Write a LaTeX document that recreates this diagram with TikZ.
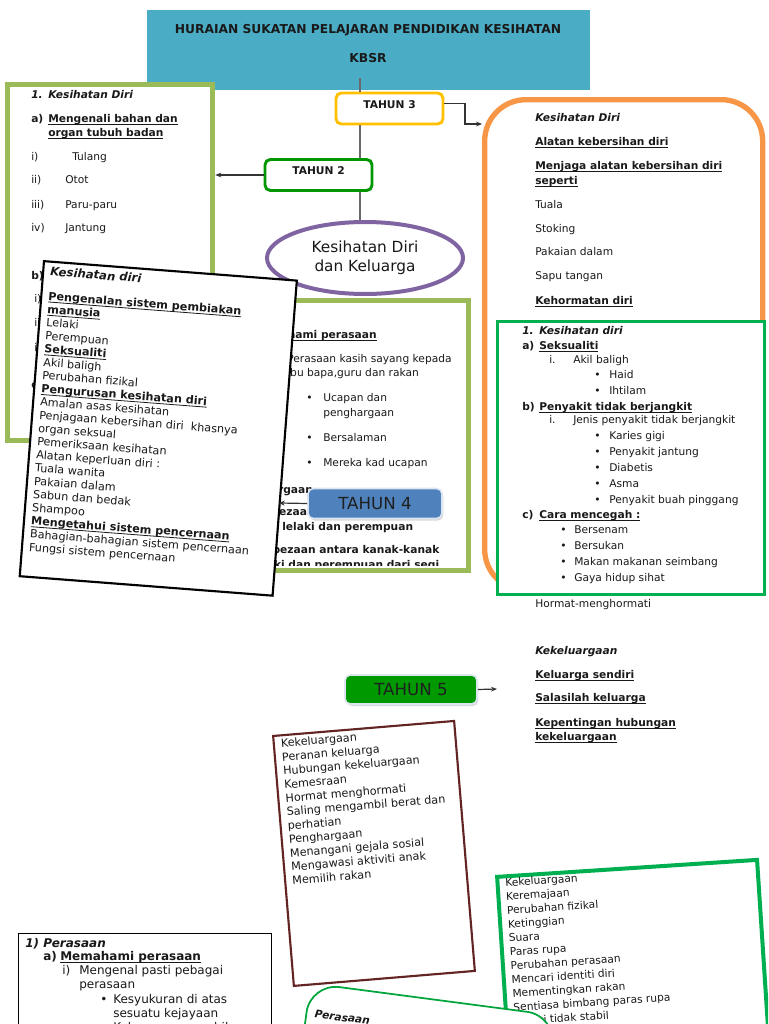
\documentclass[tikz,border=0pt]{standalone}
\usepackage{fontspec}
\setmainfont{DejaVu Sans}
\usetikzlibrary{arrows.meta,shapes.geometric,shadows}
\definecolor{titleblue}{RGB}{75,172,198}
\definecolor{lgreen}{RGB}{155,187,89}
\definecolor{tgold}{RGB}{255,192,0}
\definecolor{tgreen}{RGB}{0,150,0}
\definecolor{epurple}{RGB}{128,100,162}
\definecolor{orng}{RGB}{247,150,70}
\definecolor{mgreen}{RGB}{0,176,80}
\definecolor{t4blue}{RGB}{79,129,189}
\definecolor{t4edge}{RGB}{220,230,242}
\definecolor{t5green}{RGB}{0,153,0}
\definecolor{brwn}{RGB}{99,37,35}
\definecolor{pgreen}{RGB}{0,165,60}
\definecolor{txtc}{RGB}{25,25,25}
\definecolor{linegray}{RGB}{105,105,105}
\newcommand{\fA}{\fontsize{8}{10}\selectfont}
\newcommand{\fB}{\fontsize{8.4}{10}\selectfont}
\newcommand{\fC}{\fontsize{8.75}{10}\selectfont}
\newcommand{\fD}{\fontsize{9}{11}\selectfont}
\newcommand{\fT}{\fontsize{9.2}{11}\selectfont}
\newcommand{\fE}{\fontsize{11.5}{14.25}\selectfont}
\newcommand{\fF}{\fontsize{12.5}{14}\selectfont}
\newcommand{\bul}{\textbullet}
\newcommand{\myul}[1]{\leavevmode\setbox0\hbox{#1}\rlap{\rule[-1.7pt]{\wd0}{0.6pt}}\box0}
\tikzset{
  tx/.style={anchor=west, inner sep=0pt, text height=1.5ex, text depth=.25ex, text=txtc},
  tA/.style={tx, font=\fA}, tAb/.style={tx, font=\fA\bfseries}, tAi/.style={tx, font=\fA\bfseries\itshape},
  tB/.style={tx, font=\fB}, tBb/.style={tx, font=\fB\bfseries}, tBi/.style={tx, font=\fB\bfseries\itshape},
  tD/.style={tx, font=\fD}, tDb/.style={tx, font=\fD\bfseries}, tDi/.style={tx, font=\fD\bfseries\itshape},
  arr/.style={-{Stealth[length=4.5pt,width=3.6pt]}, line width=0.9pt, draw=black!80},
  vline/.style={draw=linegray, line width=1.1pt},
  panel/.style={anchor=north west, inner sep=0pt, fill=white},
  tahunbox/.style={fill=white, rounded corners=4pt, line width=2.2pt, minimum width={107*0.75pt}, minimum height={31*0.75pt}, font=\fA\bfseries, text height=6pt, text depth=6.5pt, text=txtc},
  tahunfill/.style={rounded corners=4pt, draw=t4edge, line width=1.2pt, minimum height={30*0.75pt}, font=\fF, text=black!88, drop shadow={shadow xshift=1pt,shadow yshift=-1.5pt,opacity=0.3}},
}
\begin{document}
\begin{tikzpicture}[x=0.75pt,y=-0.75pt]
\useasboundingbox (0,0) rectangle (768,1024);
\clip (0,0) rectangle (768,1024);

% title
\node[panel, fill=titleblue, minimum width={443*0.75pt}, minimum height={80*0.75pt}] (title) at (147,10) {};
\node[font=\fT\bfseries, text=txtc, inner sep=0pt] (titleA) at (368,30) {HURAIAN SUKATAN PELAJARAN PENDIDIKAN KESIHATAN};
\node[font=\fT\bfseries, text=txtc, inner sep=0pt] (titleB) at (368,58) {KBSR};

% left light green box
\node[panel, draw=lgreen, line width=4pt, minimum width={205*0.75pt}, minimum height={356*0.75pt}] (lbox) at (5,82) {};
\node[tAi] (l1n) at (31,94) {1.};
\node[tAi] (l1) at (48,94) {Kesihatan Diri};
\node[tAb] (l2n) at (31,118) {a)};
\node[tAb] (l2) at (48,118) {\myul{Mengenali bahan dan}};
\node[tAb] (l3) at (48,132) {\myul{organ tubuh badan}};
\node[tA] (l4n) at (31,156) {i)};   \node[tA] (l4) at (72,156) {Tulang};
\node[tA] (l5n) at (31,179) {ii)};  \node[tA] (l5) at (65,179) {Otot};
\node[tA] (l6n) at (31,204) {iii)}; \node[tA] (l6) at (65,204) {Paru-paru};
\node[tA] (l7n) at (31,227) {iv)};  \node[tA] (l7) at (65,227) {Jantung};
\node[tAb] (l8n) at (31,275) {b)};
\node[tA] (l9n) at (34,298) {i)};
\node[tA] (l10n) at (34,322) {ii)};
\node[tA] (l11n) at (34,347) {iii)};
\node[tAb] (l12n) at (31,384) {c)};

% middle light green box
\node[panel, draw=lgreen, line width=3.75pt, minimum width={239.5*0.75pt}, minimum height={270*0.75pt}] (mbox) at (226,297.5) {};
\begin{scope}
\clip (229,300) rectangle (463,565);
\node[tAb, anchor=east] (m1) at (377,334) {\myul{Memahami perasaan}};
\node[tA] (m2) at (287,358) {Perasaan kasih sayang kepada};
\node[tA] (m3) at (287,372) {ibu bapa,guru dan rakan};
\node[tA] (m4b) at (306,397) {\bul}; \node[tA] (m4) at (323,397) {Ucapan dan};
\node[tA] (m5) at (323,412) {penghargaan};
\node[tA] (m6b) at (306,437) {\bul}; \node[tA] (m6) at (323,437) {Bersalaman};
\node[tA] (m7b) at (306,462) {\bul}; \node[tA] (m7) at (323,462) {Mereka kad ucapan};
\node[tAb] (m8) at (230,489) {Kekeluargaan};
\node[tAb] (m9) at (251,511) {Perbezaan antara kanak-kanak};
\node[tAb] (m10) at (282,526) {lelaki dan perempuan};
\node[tAb] (m11) at (252,549) {Perbezaan antara kanak-kanak};
\node[tAb] (m12) at (252,564) {lelaki dan perempuan dari segi};
\end{scope}

% tahun 3, tahun 2, ellipse
\node[tahunbox, draw=tgold] (t3) at (389.5,108.5) {TAHUN 3};
\node[tahunbox, draw=tgreen] (t2) at (318.5,175) {TAHUN 2};
\node[ellipse, draw=epurple, line width=3pt, fill=white, minimum width={196*0.75pt}, minimum height={72*0.75pt}, font=\fE, align=center, text=txtc, inner sep=0pt] (ell) at (365,258) {Kesihatan Diri\\dan Keluarga};

\coordinate (vtop) at (360,78);
\draw[vline] (vtop) -- (vtop |- t3.north);
\draw[vline] (t3.south -| vtop) -- (t2.north -| vtop);
\draw[vline] (t2.south -| vtop) -- (ell.north -| vtop);
\draw[arr] (t2.west) -- (t2.west -| lbox.east);

% rotated black box
\begin{scope}[shift={(43,260)}, rotate=-4.4, every node/.append style={transform shape}]
\node[panel, draw=black, line width=1.6pt, minimum width={253.6*0.75pt}, minimum height={316*0.75pt}] (rbox) at (0,0) {};
\coordinate (rbin) at (253.6,224.2);
\node[tx, font=\fC\bfseries\itshape] (r0) at (8,10.5) {Kesihatan diri};
\node[tBb] (r1) at (8,35) {\myul{Pengenalan sistem pembiakan}};
\node[tBb] (r2) at (8,48.3) {\myul{manusia}};
\node[tB] (r3) at (8,61.5) {Lelaki};
\node[tB] (r4) at (8,74.8) {Perempuan};
\node[tBb] (r5) at (8,88) {\myul{Seksualiti}};
\node[tB] (r6) at (8,101.3) {Akil baligh};
\node[tB] (r7) at (8,114.6) {Perubahan fizikal};
\node[tBb] (r8) at (8,127.8) {\myul{Pengurusan kesihatan diri}};
\node[tB] (r9) at (8,141.1) {Amalan asas kesihatan};
\node[tB] (r10) at (8,154.3) {Penjagaan kebersihan diri\ \ khasnya};
\node[tB] (r11) at (8,167.6) {organ seksual};
\node[tB] (r12) at (8,180.8) {Pemeriksaan kesihatan};
\node[tB] (r13) at (8,194.1) {Alatan keperluan diri :};
\node[tB] (r14) at (8,207.4) {Tuala wanita};
\node[tB] (r15) at (8,220.6) {Pakaian dalam};
\node[tB] (r16) at (8,233.9) {Sabun dan bedak};
\node[tB] (r17) at (8,247.1) {Shampoo};
\node[tBb] (r18) at (8,260.4) {\myul{Mengetahui sistem pencernaan}};
\node[tB] (r19) at (8,273.6) {Bahagian-bahagian sistem pencernaan};
\node[tB] (r20) at (8,286.9) {Fungsi sistem pencernaan};
\end{scope}

% tahun 4
\node[tahunfill, fill=t4blue, minimum width={134*0.75pt}] (t4) at (375,503.5) {TAHUN 4};
\draw[arr] (t4.west) -- (rbin);

% orange box
\node[panel, draw=orng, line width=4pt, rounded corners=31pt, minimum width={278*0.75pt}, minimum height={491*0.75pt}] (obox) at (482,97) {};
\coordinate (t3turn) at (465,124);
\draw[arr] ([yshift=4pt]t3.east) -| (t3turn) -- (obox.west |- t3turn);
\node[tAi] (o1) at (535,117) {Kesihatan Diri};
\node[tAb] (o2) at (535,141) {\myul{Alatan kebersihan diri}};
\node[tAb] (o3) at (535,165) {\myul{Menjaga alatan kebersihan diri}};
\node[tAb] (o4) at (535,180) {\myul{seperti}};
\node[tA] (o5) at (535,204) {Tuala};
\node[tA] (o6) at (535,228) {Stoking};
\node[tA] (o7) at (535,251) {Pakaian dalam};
\node[tA] (o8) at (535,275) {Sapu tangan};
\node[tAb] (o9) at (535,300) {\myul{Kehormatan diri}};

% green box over orange
\node[panel, draw=mgreen, line width=2pt, minimum width={267*0.75pt}, minimum height={273*0.75pt}] (gbox) at (496,320) {};
\node[tAi] (g1n) at (522,330) {1.}; \node[tAi] (g1) at (539,330) {Kesihatan diri};
\node[tAb] (g2n) at (522,345) {a)}; \node[tAb] (g2) at (539,345) {\myul{Seksualiti}};
\node[tA] (g3n) at (549,359) {i.}; \node[tA] (g3) at (573,359) {Akil baligh};
\node[tA] (g4b) at (594,374) {\bul}; \node[tA] (g4) at (609,374) {Haid};
\node[tA] (g5b) at (594,390) {\bul}; \node[tA] (g5) at (609,390) {Ihtilam};
\node[tAb] (g6n) at (522,406) {b)}; \node[tAb] (g6) at (539,406) {\myul{Penyakit tidak berjangkit}};
\node[tA] (g7n) at (549,419) {i.}; \node[tA] (g7) at (573,419) {Jenis penyakit tidak berjangkit};
\node[tA] (g8b) at (594,435) {\bul}; \node[tA] (g8) at (609,435) {Karies gigi};
\node[tA] (g9b) at (594,451) {\bul}; \node[tA] (g9) at (609,451) {Penyakit jantung};
\node[tA] (g10b) at (594,467) {\bul}; \node[tA] (g10) at (609,467) {Diabetis};
\node[tA] (g11b) at (594,483) {\bul}; \node[tA] (g11) at (609,483) {Asma};
\node[tA] (g12b) at (594,499) {\bul}; \node[tA] (g12) at (609,499) {Penyakit buah pinggang};
\node[tAb] (g13n) at (522,514) {c)}; \node[tAb] (g13) at (539,514) {\myul{Cara mencegah :}};
\node[tA] (g14b) at (560,529) {\bul}; \node[tA] (g14) at (574,529) {Bersenam};
\node[tA] (g15b) at (560,545) {\bul}; \node[tA] (g15) at (574,545) {Bersukan};
\node[tA] (g16b) at (560,561) {\bul}; \node[tA] (g16) at (574,561) {Makan makanan seimbang};
\node[tA] (g17b) at (560,577) {\bul}; \node[tA] (g17) at (574,577) {Gaya hidup sihat};

% text below
\node[tA] (h1) at (535,603) {Hormat-menghormati};
\node[tAi] (h2) at (535,650) {Kekeluargaan};
\node[tAb] (h3) at (535,674) {\myul{Keluarga sendiri}};
\node[tAb] (h4) at (535,697) {\myul{Salasilah keluarga}};
\node[tAb] (h5) at (535,722) {\myul{Kepentingan hubungan}};
\node[tAb] (h6) at (535,736) {\myul{kekeluargaan}};

% tahun 5
\node[tahunfill, fill=t5green, minimum width={132*0.75pt}, minimum height={29*0.75pt}] (t5) at (411,689.5) {TAHUN 5};
\coordinate (t5end) at (497,689);
\draw[arr] (t5.east) -- (t5end);

% brown box
\begin{scope}[shift={(272,735)}, rotate=4.74, every node/.append style={transform shape}]
\node[panel, draw=brwn, line width=1.6pt, minimum width={181.6*0.75pt}, minimum height={250.8*0.75pt}] (bbox) at (0,0) {};
\foreach \t [count=\i from 0] in {Kekeluargaan, Peranan keluarga, Hubungan kekeluargaan, Kemesraan, Hormat menghormati, Saling mengambil berat dan, perhatian, Penghargaan, Menangani gejala sosial, Mengawasi aktiviti anak, Memilih rakan}
  \node[tB] (b\i) at (8,8.6+13.76*\i) {\t};
\end{scope}

% right bottom green box
\begin{scope}[shift={(495,875)}, rotate=3.74, every node/.append style={transform shape}]
\node[panel, draw=mgreen, line width=3pt, minimum width={260.5*0.75pt}, minimum height={260*0.75pt}] (kbox) at (0,0) {};
\foreach \t [count=\i from 0] in {Kekeluargaan, Keremajaan, Perubahan fizikal, Ketinggian, Suara, Paras rupa, Perubahan perasaan, Mencari identiti diri, Mementingkan rakan, Sentiasa bimbang paras rupa, Emosi tidak stabil}
  \node[tA] (k\i) at (9.5,7.6+13.9*\i) {\t};
\end{scope}

% bottom left box
\node[panel, draw=black, line width=0.8pt, minimum width={253*0.75pt}, minimum height={120*0.75pt}] (pbox) at (18,932.5) {};
\node[tDi] (p1) at (25,943) {1) Perasaan};
\node[tDb] (p2n) at (43,956) {a)}; \node[tDb] (p2) at (60,956) {\myul{Memahami perasaan}};
\node[tD] (p3n) at (62,970) {i)}; \node[tD] (p3) at (79,970) {Mengenal pasti pebagai};
\node[tD] (p4) at (79,984) {perasaan};
\node[tD] (p5b) at (100,999) {\bul}; \node[tD] (p5) at (113,999) {Kesyukuran di atas};
\node[tD] (p6) at (113,1013) {sesuatu kejayaan};
\node[tD] (p7b) at (100,1027) {\bul}; \node[tD] (p7) at (113,1027) {Kekecewaan apabila};

% bottom middle perasaan box
\begin{scope}[shift={(309.6,982.3)}, rotate=-7.5, every node/.append style={transform shape}]
\node[panel, draw=pgreen, line width=1.3pt, rounded corners=22pt, minimum width={248*0.75pt}, minimum height={150*0.75pt}] (fbox) at (0,0) {};
\node[tAi] (f1) at (9,29.7) {Perasaan};
\end{scope}
\end{tikzpicture}
\end{document}
